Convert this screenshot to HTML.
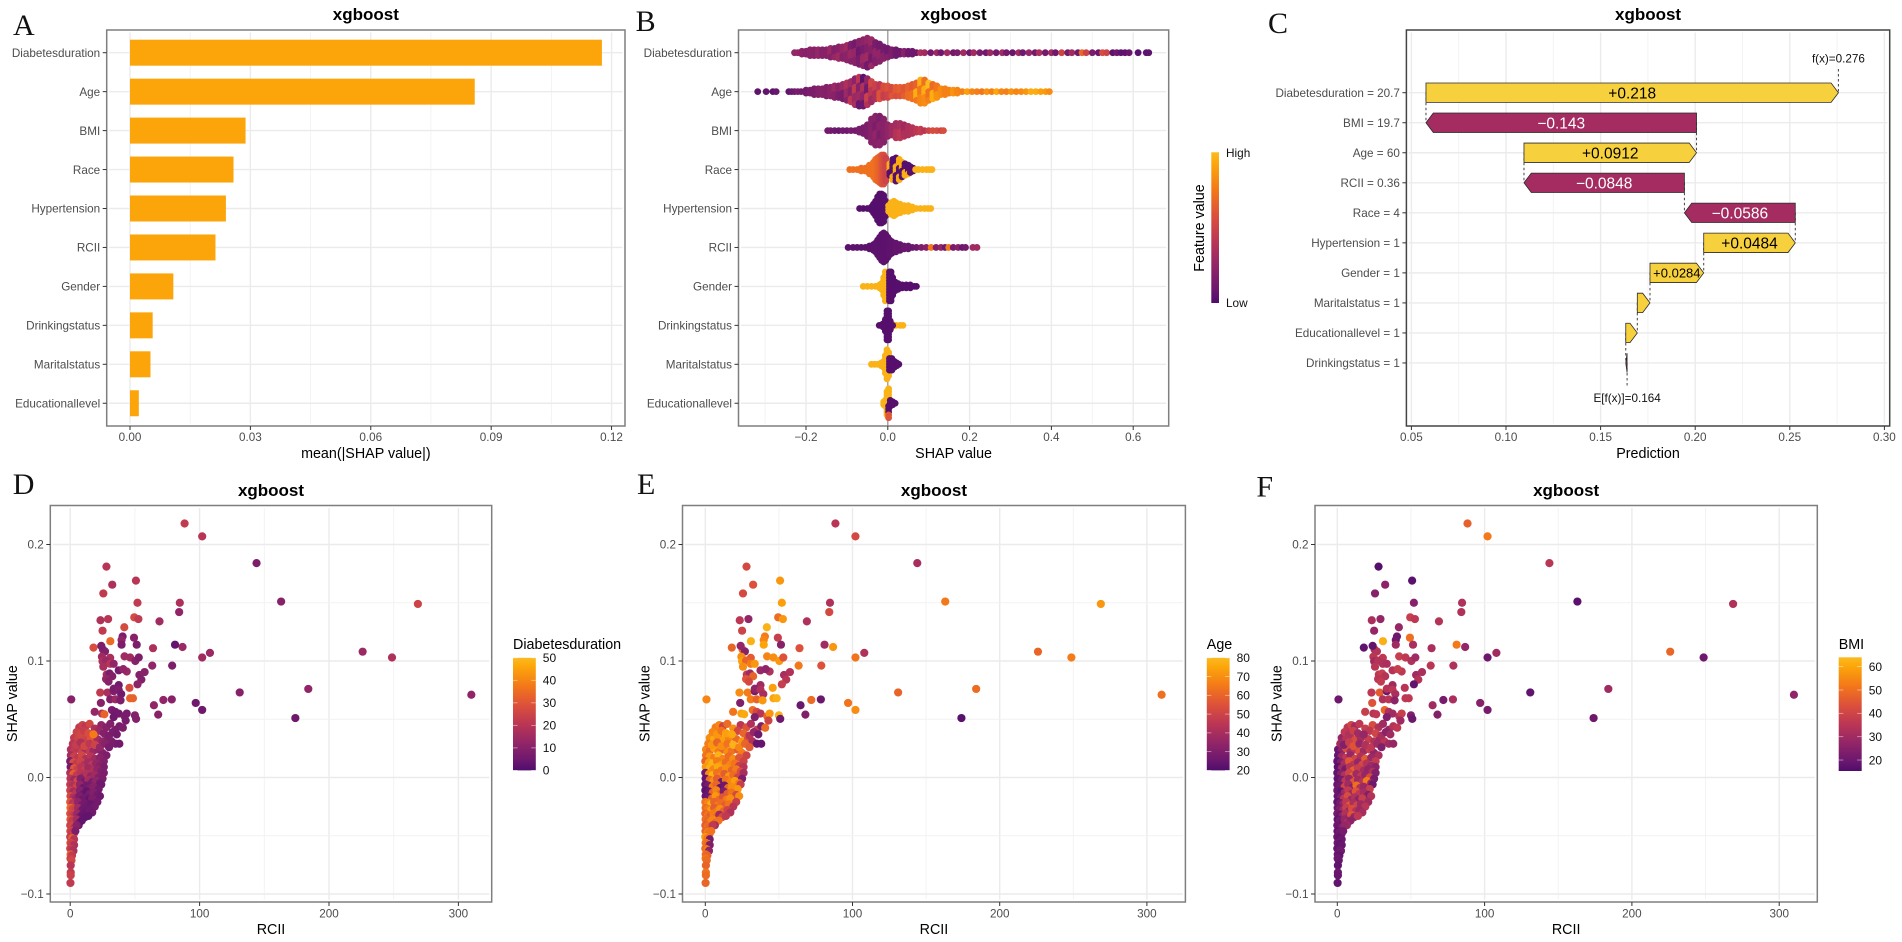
<!DOCTYPE html>
<html lang="en">
<head>
<meta charset="utf-8">
<title>xgboost SHAP summary figure</title>
<style>
html,body{margin:0;padding:0;background:#fff;}
svg{display:block;font-family:"Liberation Sans",Arial,sans-serif;filter:blur(0.35px);}
</style>
</head>
<body>
<svg id="figure" xmlns="http://www.w3.org/2000/svg" width="1902" height="942" viewBox="0 0 1902 942">
<defs>
<linearGradient id="inferno-gradient" x1="0" y1="1" x2="0" y2="0">
<stop offset="0" stop-color="#4f0d6c"/>
<stop offset="0.083" stop-color="#6a176e"/>
<stop offset="0.25" stop-color="#932667"/>
<stop offset="0.417" stop-color="#bc3754"/>
<stop offset="0.583" stop-color="#dd513a"/>
<stop offset="0.75" stop-color="#f37819"/>
<stop offset="0.917" stop-color="#fca50a"/>
<stop offset="1" stop-color="#fbba1f"/>
</linearGradient>
</defs>
<rect x="0" y="0" width="1902" height="942" fill="#ffffff"/>
<g id="panel-a"></g>
<g id="panel-b"></g>
<g id="panel-c"></g>
<g id="panel-d"></g>
<g id="panel-e"></g>
<g id="panel-f"></g>
<text x="13" y="35" font-family="Liberation Serif" font-size="30" fill="#111">A</text>
<text x="635.6" y="31" font-family="Liberation Serif" font-size="30" fill="#111">B</text>
<text x="1268" y="33" font-family="Liberation Serif" font-size="30" fill="#111">C</text>
<text x="12.7" y="494" font-family="Liberation Serif" font-size="30" fill="#111">D</text>
<text x="637" y="494" font-family="Liberation Serif" font-size="30" fill="#111">E</text>
<text x="1256.4" y="496.5" font-family="Liberation Serif" font-size="30" fill="#111">F</text>
</svg>
<script>
/* ---------- Panel A data ---------- */
const importanceFeatures = ["Diabetesduration","Age","BMI","Race","Hypertension","RCII","Gender","Drinkingstatus","Maritalstatus","Educationallevel"];
const importanceValues = [0.1176,0.0859,0.0288,0.0258,0.0239,0.0213,0.0108,0.00565,0.0051,0.0022];
const importanceTicks = [0,0.03,0.06,0.09,0.12];
const importanceTickLabels = ["0.00","0.03","0.06","0.09","0.12"];
const importanceMinorTicks = [0.015,0.045,0.075,0.105];

/* ---------- Panel B data: each bin = [SHAP value, stacked dots, scaled feature value(s)] ---------- */
const swarmTicks = [-0.2,0,0.2,0.4,0.6];
const swarmTickLabels = ["\u22120.2","0.0","0.2","0.4","0.6"];
const swarmMinorTicks = [-0.3,-0.1,0.1,0.3,0.5];
const swarmDiabetes = [[-0.228,1,.25],[-0.22,1,.25],[-0.21,2,.22],[-0.2,2,.2],[-0.19,3,.22],[-0.18,3,.2],[-0.17,3,.25],[-0.16,3,.2],[-0.15,3,[.2,.28]],[-0.14,4,[.2,.28]],[-0.13,4,[.18,.26]],[-0.12,5,[.2,.3,.15]],[-0.11,5,[.16,.26,.2]],[-0.1,6,[.22,.14,.3]],[-0.09,7,[.16,.28,.2]],[-0.08,8,[.2,.12,.26]],[-0.07,9,[.15,.3,.2,.1]],[-0.06,10,[.22,.14,.28]],[-0.05,11,[.12,.25,.18,.3]],[-0.04,10,[.2,.13,.28]],[-0.03,8,[.14,.24,.18]],[-0.02,7,[.2,.12,.24]],[-0.01,5,[.12,.2]],[0,4,[.1,.18]],[0.01,3,[.12,.16]],[0.02,3,[.1,.2]],[0.03,2,[.1,.15]],[0.04,2,[.12,.2]],[0.05,2,[.1,.14]],[0.06,2,[.1,.16]],[0.07,1,.1],[0.08,1,.35],[0.09,1,.3],[0.105,1,.12],[0.12,1,.28],[0.13,1,.1],[0.145,1,.3],[0.16,1,.12],[0.17,1,.15],[0.185,1,.3],[0.2,1,.1],[0.21,1,.3],[0.225,1,.14],[0.24,1,.1],[0.25,1,.28],[0.265,1,.12],[0.28,1,.3],[0.29,1,.12],[0.305,1,.08],[0.32,1,.3],[0.33,1,.1],[0.345,1,.26],[0.36,1,.12],[0.37,1,.35],[0.385,1,.12],[0.4,1,.3],[0.41,1,.1],[0.425,1,.5],[0.44,1,.12],[0.45,1,.3],[0.465,1,.1],[0.475,1,.68],[0.485,1,.5],[0.5,1,.15],[0.515,1,.08],[0.525,1,.55],[0.535,1,.5],[0.55,1,.05],[0.56,1,.1],[0.57,1,.05],[0.58,1,.05],[0.59,1,.08],[0.612,1,.03],[0.632,1,.05],[0.638,1,.05]];
const swarmAge = [[-0.318,1,.05],[-0.2975,1,.06],[-0.281,1,.05],[-0.273,1,.08],[-0.242,1,.05],[-0.235,1,.08],[-0.228,1,.1],[-0.22,1,.14],[-0.212,1,.12],[-0.2,2,.12],[-0.19,2,.15],[-0.18,3,.15],[-0.17,3,.18],[-0.16,3,.2],[-0.15,4,.18],[-0.14,4,.22],[-0.13,5,[.2,.16,.28]],[-0.12,5,[.22,.16,.3]],[-0.11,6,[.2,.28,.14]],[-0.1,7,[.28,.2,.36]],[-0.09,8,[.3,.2,.42,.26]],[-0.08,10,[.34,.22,.44,.28]],[-0.07,11,[.3,.08,.42,.2]],[-0.06,11,[.04,.36,.24,.1,.4]],[-0.05,10,[.38,.24,.12,.48]],[-0.04,8,[.42,.3,.52]],[-0.03,6,[.48,.36,.55]],[-0.02,6,[.5,.42,.58]],[-0.01,5,[.55,.46]],[0,5,[.58,.5]],[0.01,4,[.6,.54]],[0.02,4,[.62,.56]],[0.03,4,[.64,.58]],[0.04,4,[.64,.6]],[0.05,5,[.66,.7]],[0.06,6,[.62,.72,.68]],[0.07,7,[.74,.66,.95]],[0.08,9,[.8,.68,.95,.74]],[0.09,9,[.72,.95,.82,.66]],[0.1,7,[.78,1,.72]],[0.11,6,[.95,.76,.7]],[0.12,5,[.74,.85]],[0.13,3,[.76,.82]],[0.14,3,[.78,.84]],[0.15,2,.78],[0.16,2,.85],[0.17,2,.8],[0.182,1,.78],[0.194,1,.9],[0.206,1,.8],[0.218,1,.78],[0.23,1,.74],[0.242,1,.85],[0.254,1,.78],[0.266,1,.92],[0.278,1,.8],[0.29,1,.78],[0.302,1,.85],[0.314,1,.8],[0.326,1,.82],[0.338,1,.86],[0.35,1,.95],[0.362,1,.95],[0.374,1,.9],[0.386,1,.88],[0.395,1,.82]];
const swarmBmi = [[-0.147,1,.12],[-0.14,1,.12],[-0.13,1,.1],[-0.12,1,.08],[-0.11,1,.12],[-0.1,1,.1],[-0.09,1,.14],[-0.08,1,.12],[-0.07,2,.14],[-0.06,3,.15],[-0.05,5,.16],[-0.04,9,.2],[-0.03,11,[.2,.16,.24]],[-0.02,11,[.22,.16]],[-0.01,9,.2],[0,5,.24],[0.01,4,.3],[0.02,6,[.32,.38]],[0.03,6,[.34,.42]],[0.04,5,[.36,.3]],[0.05,4,.36],[0.06,3,.38],[0.07,2,.42],[0.08,2,.45],[0.09,1,.4],[0.1,1,.5],[0.11,1,.55],[0.12,1,.55],[0.13,1,.5],[0.136,1,.56]];
const swarmRace = [[-0.093,1,.72],[-0.085,1,.72],[-0.075,1,.72],[-0.065,2,.72],[-0.055,2,.72],[-0.045,4,.72],[-0.035,6,.72],[-0.03,8,.72],[-0.025,9,.68],[-0.02,10,.66],[-0.015,11,.6],[-0.01,11,.55],[-0.005,9,.5],[0.005,5,[.02,.95]],[0.012,8,[.95,.02,.02]],[0.02,9,[.02,.95]],[0.028,8,[.95,.02]],[0.035,6,[.02,.95]],[0.042,5,[.95,.02]],[0.05,4,[.02,.95]],[0.055,3,.02],[0.062,2,.02],[0.068,1,.97],[0.075,1,.97],[0.085,1,.97],[0.095,1,.97],[0.102,1,.97],[0.108,1,.97]];
const swarmHypertension = [[-0.069,1,.02],[-0.06,1,.02],[-0.05,1,.02],[-0.04,2,.02],[-0.035,4,.02],[-0.03,6,.02],[-0.025,9,.02],[-0.02,11,.02],[-0.015,11,.02],[-0.01,10,.02],[-0.005,6,.02],[0.002,3,.97],[0.008,5,.97],[0.015,6,.97],[0.02,5,.97],[0.03,4,.97],[0.04,3,.97],[0.05,3,.97],[0.06,2,.97],[0.07,1,.97],[0.08,1,.97],[0.09,1,.97],[0.098,1,.97],[0.105,1,.97]];
const swarmRcii = [[-0.097,1,.04],[-0.085,1,.04],[-0.075,1,.04],[-0.065,1,.04],[-0.055,1,.04],[-0.045,2,.04],[-0.035,3,.04],[-0.03,4,.04],[-0.025,6,.04],[-0.02,8,.04],[-0.015,10,.04],[-0.01,11,.04],[-0.005,10,.04],[0,8,.04],[0.005,6,.05],[0.01,5,.05],[0.02,4,.06],[0.03,3,.06],[0.04,2,.08],[0.05,2,.08],[0.06,1,.08],[0.07,1,.1],[0.082,1,.16],[0.094,1,.2],[0.106,1,.75],[0.118,1,.18],[0.13,1,.25],[0.14,1,.1],[0.149,1,.75],[0.16,1,.14],[0.172,1,.2],[0.182,1,.08],[0.19,1,.12],[0.208,1,.3],[0.218,1,.3]];
const swarmGender = [[-0.06,1,.97],[-0.05,1,.97],[-0.04,1,.97],[-0.03,1,.97],[-0.02,2,.97],[-0.015,3,.97],[-0.01,7,.97],[-0.006,11,.97],[-0.002,9,.97],[0.004,11,.02],[0.008,11,.02],[0.012,7,.02],[0.018,4,.02],[0.025,3,.02],[0.035,2,.02],[0.045,2,.02],[0.055,2,.02],[0.065,1,.02],[0.07,1,.02]];
const swarmDrinking = [[0.01,2,.97],[0.02,1,.97],[0.03,1,.97],[0.037,1,.97],[-0.021,1,.02],[-0.012,2,.02],[-0.006,5,.02],[-0.002,11,.02],[0.002,11,.02],[0.006,4,.02],[0.012,1,.02]];
const swarmMarital = [[-0.04,1,.97],[-0.032,1,.97],[-0.024,1,.97],[-0.016,2,.97],[-0.01,3,.97],[-0.006,7,.97],[-0.002,11,.97],[0.002,9,.97],[0.004,5,.02],[0.01,5,.02],[0.016,3,.02],[0.022,2,.02],[0.027,1,.02]];
const swarmEducation = [[-0.01,2,.97],[-0.006,3,.97],[-0.002,9,.97],[0.002,11,[.97,.97,.02,.6]],[0.006,3,.02],[0.012,2,.02],[0.018,1,.02]];
const swarmSeries = [swarmDiabetes,swarmAge,swarmBmi,swarmRace,swarmHypertension,swarmRcii,swarmGender,swarmDrinking,swarmMarital,swarmEducation];

/* ---------- Panel C data ---------- */
const waterfallLabels = ["Diabetesduration = 20.7","BMI = 19.7","Age = 60","RCII = 0.36","Race = 4","Hypertension = 1","Gender = 1","Maritalstatus = 1","Educationallevel = 1","Drinkingstatus = 1"];
const waterfallDeltas = [0.218,-0.143,0.0912,-0.0848,-0.0586,0.0484,0.0284,0.0067,0.0061,-0.0007];
const waterfallText = ["+0.218","\u22120.143","+0.0912","\u22120.0848","\u22120.0586","+0.0484","+0.0284","","",""];
const waterfallBase = 0.164;
const waterfallTicks = [0.05,0.10,0.15,0.20,0.25,0.30];
const waterfallTickLabels = ["0.05","0.10","0.15","0.20","0.25","0.30"];
const waterfallMinorTicks = [0.075,0.125,0.175,0.225,0.275];

/* ---------- Panels D, E, F data (same points, three colourings) ---------- */
const rciiTicks = [0,100,200,300];
const rciiMinorTicks = [50,150,250];
const shapTicks = [-0.1,0,0.1,0.2];
const shapTickLabels = ["\u22120.1","0.0","0.1","0.2"];
const shapMinorTicks = [-0.05,0.05,0.15];
const rcii = [
0.5,3,6,9,12,15,18,22,25,28, .5,3,6,9,12,16,19,23,26, 0,2.5,5,8,11,14,17,20,23,26,
3,6,9,12,16,21,25,29,32,35,38, 2,4.5,8,11,15,19,23,27,30,
7,9.5,12,15,19,24,28,31,35,38, 5,8,11,14,22,26,30,33,36,18,
.3,3,5.5,8.5,11,14,18,21,24,26, 0,2.5,5,8,10.5,13,16,19,22,25,
.2,3,5.5,8,11,14,17,20,23,24, 0,2,5,7.5,10,13,15.5,18,22,
0,2.5,5,7.5,10,12.5,15,18,21,23, .2,2.5,4.5,7,9.5,12,14.5,17,21,
0,2,4,6,8.5,11,13.5,16,19, .2,2,4,6,8,10,12.5,15,17,
0,1.8,3.5,5.5,7.5,9.5,11.5,14, .2,1.8,3.5,5,7,9,6.5,
0,1.5,3,5, .1,1.5,3,4, 0,1.5,3, .2,1.8,3, 0,1.5,2.5,
.3,1.4,.2,1,.4,.4,.4,.2,
25.3,26.9,24.5,30.9,25,27.7,30.9,25.6,33.6,
28.2,30.4,32.5,27.7,29.6,23.2,28.8,33.6,37.5,33.6,
37.5,39.4,30.9,34.9,38.9,23.7,18.9,24.5,26.4,32.2,
34.9,37.5,33.6,42.1,43.7,50,50.9,42.9,40.7,
88.4,102,144,163,268.7,226,248.7,310,184,174,
131,108,102,102,97,78.5,72,68,64.7,86.8,
81,78.8,84.7,84.2,69,64,63.4,52,50.8,28,
32.5,25.6,23.4,29.3,25,41.8,18,31,24,49.5,
52.7,40.5,39.7,39.7,49.3,51.4,0.8,42,46.3,50.3,
53,37.5,43.7,41,53.5,57.5,55,52,45.8,46.3,48.5];
const shap = [
.024,.023,.025,.022,.024,.022,.023,.024,.021,.019, .019,.018,.017,.019,.016,.018,.016,.017,.014, .014,.013,.012,.014,.011,.013,.011,.012,.010,.009,
.034,.033,.035,.032,.034,.033,.031,.034,.031,.029,.029, .029,.028,.030,.027,.029,.028,.026,.029,.026,
.043,.045,.044,.046,.042,.045,.043,.046,.041,.044, .039,.037,.040,.038,.040,.038,.036,.039,.037,.037,
.009,.008,.007,.009,.006,.008,.006,.007,.005,.004, .004,.003,.002,.004,.001,.003,.001,.002,0,-.001,
-.001,-.002,-.003,-.001,-.004,-.002,-.004,-.003,-.005,-.006, -.006,-.007,-.008,-.006,-.009,-.007,-.009,-.008,-.01,
-.011,-.012,-.013,-.011,-.014,-.012,-.014,-.013,-.015,-.016, -.016,-.017,-.018,-.016,-.019,-.017,-.019,-.018,-.021,
-.021,-.022,-.023,-.021,-.024,-.022,-.024,-.023,-.025, -.026,-.027,-.028,-.026,-.029,-.027,-.029,-.028,-.03,
-.031,-.032,-.033,-.031,-.034,-.032,-.034,-.033, -.036,-.037,-.038,-.036,-.039,-.037,-.041,
-.041,-.042,-.043,-.041, -.046,-.047,-.048,-.046, -.051,-.052,-.053, -.056,-.057,-.058, -.061,-.062,-.063,
-.066,-.067,-.0695,-.071,-.0755,-.0815,-.084,-.0905,
.1098,.1082,.1037,.1027,.0997,.1003,.0976,.0951,.0976,
.0884,.0893,.0869,.0845,.0823,.0729,.0729,.0741,.0793,.0762,
.0753,.0716,.0671,.0671,.0662,.064,.0564,.0549,.0543,.0579,
.0564,.0549,.0518,.0524,.0549,.0534,.0503,.0488,.0427,
.218,.207,.184,.151,.149,.108,.103,.071,.076,.051,
.073,.107,.103,.058,.064,.067,.0665,.054,.062,.112,
.114,.096,.15,.142,.134,.111,.096,.15,.169,.181,
.1655,.158,.135,.136,.126,.129,.1115,.117,.113,.1375,
.136,.121,.118,.114,.12,.114,.067,.104,.103,.1,
.103,.092,.091,.093,.088,.0905,.084,.08,.077,.068,.068];
const duration = [
18,22,20,24,16,22,14,12,9,8, 16,24,21,26,18,20,15,11,9, 7,28,22,25,19,16,21,13,10,8,
22,25,27,24,30,16,12,9,8,7,6, 20,23,18,26,21,25,13,10,7,
22,24,21,26,18,12,10,9,8,7, 24,26,23,28,14,9,8,7,6,38,
6,30,24,20,23,15,18,12,9,8, 18,32,22,20,16,19,12,15,9,8,
20,14,26,9,6,16,7,12,6,5, 22,18,25,12,4,6,8,10,6,
24,16,20,10,6,3,7,9,6,5, 26,18,14,8,5,6,3,8,6,
30,20,22,12,7,6,5,4,6, 34,26,24,16,9,5,4,5,5,
28,24,20,14,5,4,3,3, 30,22,24,16,6,3,3,
24,26,20,10, 26,22,28,8, 22,32,20, 26,24,18, 24,20,18,
32,22,24,26,20,22,24,22,
10,9,15,17,18,14,20,17,12,
16,8,9,13,10,22,17,9,6,7,
8,6,9,14,8,10,13,18,33,7,
6,6,5,8,7,9,9,7,8,
22,20,8,10,25,14,18,12,12,5,
10,14,15,5,5,10,12,10,12,14,
3,8,18,12,15,18,12,22,20,20,
18,22,18,20,22,27,28,35,8,27,
22,8,12,8,10,8,10,15,15,10,
8,6,14,12,9,10,9,11,28,33,33];
const age = [
68,62,74,66,60,70,64,58,66,50, 64,72,66,78,68,62,70,56,50, 60,74,78,66,72,62,68,64,48,44,
70,76,66,74,68,62,72,55,42,24,24, 66,72,60,70,64,78,68,60,58,
66,68,50,62,70,45,55,42,48,30, 68,72,64,74,52,60,44,35,26,76,
72,78,68,76,64,70,60,66,54,40, 26,70,78,64,68,58,72,62,50,30,
24,62,70,58,26,64,68,74,66,48, 24,28,66,60,24,26,62,70,72,
22,24,60,68,62,30,58,64,52,70, 24,26,60,72,62,56,66,70,48,
64,68,78,60,66,62,58,64,44, 62,66,74,58,64,70,60,50,42,
60,64,58,66,62,38,52,46, 62,60,66,68,58,64,40,
58,62,60,46, 60,66,62,64, 72,66,28, 64,62,30, 62,66,34,
62,60,64,62,60,64,62,60,
62,32,70,58,74,60,66,70,72,
46,38,60,56,52,70,66,28,38,34,
42,40,66,60,72,30,64,74,76,62,
52,44,30,60,72,78,26,50,62,
44,52,40,65,72,60,66,63,62,22,
60,42,64,70,64,25,62,30,25,72,
38,55,42,52,42,55,65,74,72,52,
55,52,45,35,50,78,60,78,35,62,
72,66,68,75,48,32,68,68,70,72,
55,36,42,34,40,42,44,48,74,75,78];
const bmi = [
20,26,42,31,35,44,30,38,27,32, 19,30,36,28,40,33,46,29,37, 18,24,32,45,36,28,41,34,30,26,
28,34,37,42,31,38,33,29,35,30,28, 30,24,38,44,28,33,36,30,24,
35,40,30,36,38,42,33,30,28,34, 36,33,39,30,36,40,32,26,30,28,
17,30,22,34,47,38,31,27,33,24, 18,25,33,40,48,30,36,28,42,22,
18,22,36,28,45,30,34,52,28,20, 19,21,40,30,25,50,33,29,38,
20,18,30,37,28,44,36,31,24,34, 19,24,35,42,29,33,26,38,30,
18,22,28,36,46,32,40,30,35, 20,24,30,38,27,42,34,29,31,
21,19,26,33,30,44,28,36, 18,22,20,28,34,26,30,
20,19,24,28, 18,21,19,22, 19,18,20, 20,18,19, 18,20,21,
19,18,20,19,18,20,19,18,
32,34,35,36,30,34,33,35,32,
36,38,34,35,37,36,46,20,30,34,
36,32,33,35,26,44,38,34,36,48,
33,30,24,34,38,24,20,30,36,
47,52,35,17,33,48,20,27,30,20,
18,30,20,22,25,32,22,24,30,28,
52,33,33,33,34,32,35,25,17,16,
26,25,32,28,28,28,18,62,18,38,
36,20,20,30,50,32,20,38,36,33,
30,34,36,38,30,32,34,18,35,36,36];
const durationLegendTicks = [0,10,20,30,40,50];
const ageLegendTicks = [20,30,40,50,60,70,80];
const bmiLegendTicks = [20,30,40,50,60];

/* ---------- Axis functions ---------- */
const xA = v => 130 + v * 4013;
const xB = v => 887.8 + v * 409;
const xC = v => 1411.4 + (v - 0.05) * 1892;
const xD = v => 70.2 + v * 1.294;
const xE = v => 705.3 + v * 1.472;
const xF = v => 1337.3 + v * 1.473;
const yS = v => 777.5 - v * 1165;
const rowA = i => 52.7 + i * 38.95;
const rowC = i => 92.7 + i * 30.03;

/* ---------- Inferno colour scale (begin .25, end .85) ---------- */
const colorT = [0,0.083,0.25,0.417,0.583,0.75,0.917,1];
const colorR = [79,106,147,188,221,243,252,251];
const colorG = [13,23,38,55,81,120,165,186];
const colorB = [108,110,103,84,58,25,10,31];
function inferno(t){
  t = Math.max(0, Math.min(1, t));
  let i = 0;
  while (i < colorT.length - 2 && t > colorT[i + 1]) i++;
  const f = (t - colorT[i]) / (colorT[i + 1] - colorT[i]);
  const mix = a => Math.round(a[i] + (a[i + 1] - a[i]) * f);
  return 'rgb(' + mix(colorR) + ',' + mix(colorG) + ',' + mix(colorB) + ')';
}

/* ---------- Drawing helpers ---------- */
const NS = 'http://www.w3.org/2000/svg';
function mk(tag, attrs, parent, text){
  const n = document.createElementNS(NS, tag);
  for (const k in attrs) n.setAttribute(k, attrs[k]);
  if (text !== undefined) n.textContent = text;
  parent.appendChild(n);
  return n;
}
function drawGridLine(parent, vertical, pos, box, major){
  const style = {stroke: major ? '#ebebeb' : '#f2f2f2', 'stroke-width': major ? 1.4 : 0.9};
  const attrs = vertical
    ? {x1: pos, x2: pos, y1: box.top + 2.5, y2: box.bottom - 2.5}
    : {x1: box.left + 2.5, x2: box.right - 2.5, y1: pos, y2: pos};
  const line = mk('line', Object.assign(attrs, style), parent);
  
  
}
function drawBorder(parent, box, color){
  const r = mk('rect', {x: box.left, y: box.top, width: box.right - box.left, height: box.bottom - box.top, fill: 'none', stroke: color, 'stroke-width': 1.5}, parent);
  
  
}
function drawXTick(parent, x, label, box, labelY){
  const t = mk('line', {x1: x, x2: x, y1: box.bottom, y2: box.bottom + 4, stroke: '#333', 'stroke-width': 1}, parent);
  
  
  const l = mk('text', {x: x, y: labelY, dy: '.36em', 'text-anchor': 'middle', 'font-size': 11.7, fill: '#4d4d4d'}, parent, label);
  
  
}
function drawYTick(parent, y, label, box){
  const t = mk('line', {x1: box.left - 4, x2: box.left, y1: y, y2: y, stroke: '#333', 'stroke-width': 1}, parent);
  
  
  const l = mk('text', {x: box.left - 6.5, y: y, dy: '.36em', 'text-anchor': 'end', 'font-size': 11.7, fill: '#4d4d4d'}, parent, label);
  
  
}
function drawTitle(parent, box, y){
  const t = mk('text', {x: (box.left + box.right) / 2, y: y, dy: '.36em', 'text-anchor': 'middle', 'font-size': 17, 'font-weight': 'bold', fill: '#000'}, parent, 'xgboost');
  
  
}
function drawXTitle(parent, box, label, y){
  const t = mk('text', {x: (box.left + box.right) / 2, y: y, dy: '.36em', 'text-anchor': 'middle', 'font-size': 14.3, fill: '#000'}, parent, label);
  
  
}
function drawColorbar(parent, left, right, top, bottom){
  const r = mk('rect', {x: left, y: top, width: right - left, height: bottom - top, fill: 'url(#inferno-gradient)'}, parent);
  
  
}

/* ---------- Panel A ---------- */
(function(){
  const g = document.getElementById('panel-a');
  const box = {left: 106.7, right: 625, top: 30, bottom: 426};
  importanceMinorTicks.forEach(v => drawGridLine(g, true, xA(v), box, false));
  importanceTicks.forEach(v => drawGridLine(g, true, xA(v), box, true));
  importanceFeatures.forEach((f, i) => drawGridLine(g, false, rowA(i), box, true));
  importanceValues.forEach((v, i) => {
    const b = mk('rect', {x: xA(0), y: rowA(i) - 13, width: xA(v) - xA(0), height: 26, fill: '#fca50a'}, g);
    
    
  });
  drawBorder(g, box, '#7f7f7f');
  importanceFeatures.forEach((f, i) => drawYTick(g, rowA(i), f, box));
  importanceTicks.forEach((v, i) => drawXTick(g, xA(v), importanceTickLabels[i], box, 437));
  drawTitle(g, box, 14);
  drawXTitle(g, box, 'mean(|SHAP value|)', 453);
})();

/* ---------- Panel B ---------- */
(function(){
  const g = document.getElementById('panel-b');
  const box = {left: 738.5, right: 1168.7, top: 30, bottom: 426};
  swarmMinorTicks.forEach(v => drawGridLine(g, true, xB(v), box, false));
  swarmTicks.forEach(v => drawGridLine(g, true, xB(v), box, true));
  importanceFeatures.forEach((f, i) => drawGridLine(g, false, rowA(i), box, true));
  const zero = mk('line', {x1: xB(0), x2: xB(0), y1: box.top, y2: box.bottom, stroke: '#999', 'stroke-width': 1.3}, g);
  
  
  swarmSeries.forEach((bins, row) => {
    bins.forEach(bin => {
      const values = Array.isArray(bin[2]) ? bin[2] : [bin[2]];
      for (let k = 0; k < bin[1]; k++) {
        const blotch = Math.floor(k / 3) + (Math.round(bin[0] * 100) % 3 + 3) % 3;
        const dot = mk('circle', {cx: xB(bin[0]), cy: rowA(row) + (k - (bin[1] - 1) / 2) * 2.9, r: 3.4, fill: inferno(values[blotch % values.length])}, g);
        
        
      }
    });
  });
  drawBorder(g, box, '#7f7f7f');
  importanceFeatures.forEach((f, i) => drawYTick(g, rowA(i), f, box));
  swarmTicks.forEach((v, i) => drawXTick(g, xB(v), swarmTickLabels[i], box, 437));
  drawTitle(g, box, 14);
  drawXTitle(g, box, 'SHAP value', 453);
  drawColorbar(g, 1211.3, 1219, 152.3, 303);
  const hi = mk('text', {x: 1226, y: 152.7, dy: '.36em', 'font-size': 11.8, fill: '#111'}, g, 'High');
  
  
  const lo = mk('text', {x: 1226, y: 303, dy: '.36em', 'font-size': 11.8, fill: '#111'}, g, 'Low');
  
  
  const lt = mk('text', {x: 1199, y: 228, dy: '.36em', 'text-anchor': 'middle', 'font-size': 14.3, fill: '#000', transform: 'rotate(-90 1199 228)'}, g, 'Feature value');
  
  
})();

/* ---------- Panel C ---------- */
(function(){
  const g = document.getElementById('panel-c');
  const box = {left: 1406.4, right: 1889.7, top: 30, bottom: 426};
  waterfallMinorTicks.forEach(v => drawGridLine(g, true, xC(v), box, false));
  waterfallTicks.forEach(v => drawGridLine(g, true, xC(v), box, true));
  waterfallLabels.forEach((f, i) => drawGridLine(g, false, rowC(i), box, true));
  const ends = [];
  let running = waterfallBase;
  for (let i = waterfallDeltas.length - 1; i >= 0; i--) {
    const start = running;
    running += waterfallDeltas[i];
    ends[i] = {start: start, end: running};
  }
  const dash = (x, y1, y2) => {
    const d = mk('line', {x1: x, x2: x, y1: y1, y2: y2, stroke: '#444', 'stroke-width': 1, 'stroke-dasharray': '2.5 2.5'}, g);
    
    
  };
  dash(xC(ends[0].end), 69, rowC(0));
  for (let i = 0; i < ends.length - 1; i++) dash(xC(ends[i].start), rowC(i), rowC(i + 1));
  dash(xC(waterfallBase), rowC(9), 387);
  ends.forEach((e, i) => {
    const s = xC(e.start), t = xC(e.end), y = rowC(i), hh = 9.7;
    const dir = t >= s ? 1 : -1;
    const head = Math.min(7.3, Math.abs(t - s));
    const pts = [[s, y - hh], [t - dir * head, y - hh], [t, y], [t - dir * head, y + hh], [s, y + hh]];
    const poly = mk('polygon', {points: pts.map(p => p.join(',')).join(' '), fill: waterfallDeltas[i] >= 0 ? '#f7d13d' : '#a52c60', stroke: '#2b2b2b', 'stroke-width': 0.8}, g);
    
    
    if (waterfallText[i]) {
      const small = Math.abs(t - s) < 60;
      const lab = mk('text', {x: (s + t) / 2, y: y, dy: '.36em', 'text-anchor': 'middle', 'font-size': small ? 13 : 15.5, fill: waterfallDeltas[i] >= 0 ? '#000' : '#fff'}, g, waterfallText[i]);
      
      
    }
  });
  const fx = mk('text', {x: xC(ends[0].end), y: 58.3, dy: '.36em', 'text-anchor': 'middle', 'font-size': 11.7, fill: '#111'}, g, 'f(x)=0.276');
  
  
  const ex = mk('text', {x: xC(waterfallBase), y: 398, dy: '.36em', 'text-anchor': 'middle', 'font-size': 11.7, fill: '#111'}, g, 'E[f(x)]=0.164');
  
  
  drawBorder(g, box, '#444');
  waterfallLabels.forEach((f, i) => drawYTick(g, rowC(i), f, box));
  waterfallTicks.forEach((v, i) => drawXTick(g, xC(v), waterfallTickLabels[i], box, 437));
  drawTitle(g, box, 14);
  drawXTitle(g, box, 'Prediction', 453);
})();

/* ---------- Panels D, E, F ---------- */
function drawDependence(id, box, xScale, colorValues, domainMin, domainMax, legend, legendTicks, legendTitle, yTitleX){
  const g = document.getElementById(id);
  const norm = v => (v - domainMin) / (domainMax - domainMin);
  rciiMinorTicks.forEach(v => drawGridLine(g, true, xScale(v), box, false));
  rciiTicks.forEach(v => drawGridLine(g, true, xScale(v), box, true));
  shapMinorTicks.forEach(v => drawGridLine(g, false, yS(v), box, false));
  shapTicks.forEach(v => drawGridLine(g, false, yS(v), box, true));
  rcii.forEach((v, i) => {
    const p = mk('circle', {cx: xScale(v), cy: yS(shap[i]), r: 4.1, fill: inferno(norm(colorValues[i]))}, g);
    
    
  });
  drawBorder(g, box, '#7f7f7f');
  shapTicks.forEach((v, i) => drawYTick(g, yS(v), shapTickLabels[i], box));
  rciiTicks.forEach(v => drawXTick(g, xScale(v), String(v), box, 913.2));
  drawTitle(g, box, 489.8);
  drawXTitle(g, box, 'RCII', 929);
  const yt = mk('text', {x: yTitleX, y: 703.6, dy: '.36em', 'text-anchor': 'middle', 'font-size': 14.3, fill: '#000', transform: 'rotate(-90 ' + yTitleX + ' 703.6)'}, g, 'SHAP value');
  
  
  drawColorbar(g, legend.left, legend.right, legend.top, legend.bottom);
  const lt = mk('text', {x: legend.left, y: 644, dy: '.36em', 'font-size': 14.3, fill: '#000'}, g, legendTitle);
  
  
  const w = (legend.right - legend.left) / 5;
  legendTicks.forEach(v => {
    const y = legend.bottom - norm(v) * (legend.bottom - legend.top);
    [[legend.left, legend.left + w], [legend.right - w, legend.right]].forEach(seg => {
      const tick = mk('line', {x1: seg[0], x2: seg[1], y1: y, y2: y, stroke: '#fff', 'stroke-opacity': 0.55, 'stroke-width': 0.8}, g);
      
      
    });
    const lab = mk('text', {x: legend.right + 7, y: y, dy: '.36em', 'font-size': 12, fill: '#111'}, g, String(v));
    
    
  });
}
drawDependence('panel-d', {left: 50.3, right: 491.7, top: 505.5, bottom: 902}, xD, duration, 0, 50,
  {left: 513, right: 535.8, top: 657.8, bottom: 770.4}, durationLegendTicks, 'Diabetesduration', 12);
drawDependence('panel-e', {left: 682.5, right: 1185.4, top: 505.5, bottom: 902}, xE, age, 20, 80,
  {left: 1206.8, right: 1229.6, top: 657.8, bottom: 770.4}, ageLegendTicks, 'Age', 644.6);
drawDependence('panel-f', {left: 1315, right: 1817.3, top: 505.5, bottom: 902}, xF, bmi, 15.3, 64,
  {left: 1838.7, right: 1861.7, top: 657.3, bottom: 771}, bmiLegendTicks, 'BMI', 1276.4);
</script>
</body>
</html>
